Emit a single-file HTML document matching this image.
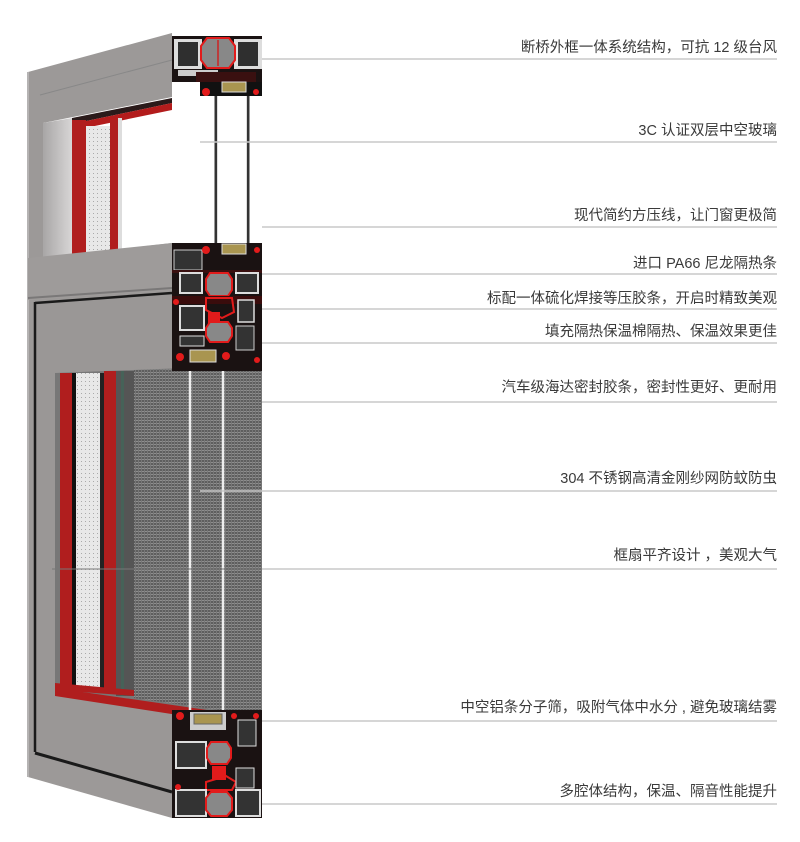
<!DOCTYPE html>
<html><head><meta charset="utf-8"><style>
html,body{margin:0;padding:0;background:#fff;}
svg{display:block}
text{font-family:"Liberation Sans","Noto Sans CJK SC",sans-serif;font-size:14.5px;fill:#3a3a3a}
</style></head><body>
<svg width="800" height="842" viewBox="0 0 800 842" xmlns="http://www.w3.org/2000/svg">
<defs>
<pattern id="mesh" width="3" height="3" patternUnits="userSpaceOnUse">
<rect width="3" height="3" fill="#5e5e5e"/><rect width="3" height="1" fill="#8e8e8e"/><rect width="1" height="3" fill="#777"/>
</pattern>
<pattern id="wm" width="4" height="4" patternUnits="userSpaceOnUse">
<rect width="4" height="4" fill="#e8e8e8"/><rect x="1" y="1" width="1" height="1" fill="#aaa"/>
</pattern>
<linearGradient id="sh" x1="0" x2="1"><stop offset="0" stop-color="#a8a6a6"/><stop offset="1" stop-color="#d8d6d6"/></linearGradient>
</defs>

<polygon points="28,72 172,33 172,818 28,777" fill="#9c9998"/>
<line x1="28" y1="72" x2="28" y2="777" stroke="#b5b3b3" stroke-width="2"/>
<line x1="40" y1="95" x2="172" y2="60" stroke="#888" stroke-width="1"/>

<polygon points="43,123 172,97 172,243 43,258" fill="#fff"/>
<polygon points="43,123 72,118 72,255 43,258" fill="url(#sh)"/>
<polygon points="72,118 172,98 172,103 72,124" fill="#2a1a1a"/>
<polygon points="72,124 172,103 172,110 85,128" fill="#b31c1c"/>
<rect x="72" y="120" width="14" height="135" fill="#b01e1e"/>
<rect x="86" y="126" width="24" height="128" fill="url(#wm)"/>
<rect x="110" y="120" width="8" height="133" fill="#b01e1e"/>
<rect x="118" y="118" width="4" height="134" fill="#ddd"/>

<polygon points="28,258 172,243 172,290 28,300" fill="#9e9b9a"/>
<line x1="28" y1="298" x2="172" y2="288" stroke="#7a7878" stroke-width="2"/>

<polygon points="35,302 172,292 172,790 35,752" fill="#9a9796"/>
<line x1="35" y1="302" x2="35" y2="752" stroke="#1a1a1a" stroke-width="2.5"/>
<line x1="35" y1="303" x2="172" y2="293" stroke="#1a1a1a" stroke-width="2.5"/>
<line x1="35" y1="753" x2="172" y2="792" stroke="#1a1a1a" stroke-width="3"/>

<polygon points="55,373 262,365 262,730 55,688" fill="#777"/>
<rect x="60" y="373" width="12" height="315" fill="#b01e1e"/>
<rect x="72" y="373" width="4" height="315" fill="#111"/>
<rect x="76" y="373" width="24" height="315" fill="url(#wm)"/>
<rect x="100" y="373" width="4" height="318" fill="#222"/>
<rect x="104" y="371" width="12" height="322" fill="#b01e1e"/>
<rect x="116" y="371" width="18" height="325" fill="#555"/>
<rect x="121" y="371" width="3" height="325" fill="#3c6a5a" opacity=".6"/>
<polygon points="134,370 262,368 262,716 134,698" fill="url(#mesh)"/>
<polygon points="55,688 262,718 262,728 55,696" fill="#b01e1e"/>
<polygon points="55,683 134,690 134,696 55,690" fill="#b01e1e"/>
<line x1="190" y1="365" x2="190" y2="730" stroke="#eee" stroke-width="2.5"/>
<line x1="223" y1="365" x2="223" y2="730" stroke="#eee" stroke-width="2.5"/>

<line x1="216" y1="75" x2="216" y2="245" stroke="#333" stroke-width="3"/>
<line x1="248" y1="75" x2="248" y2="245" stroke="#333" stroke-width="3"/>
<line x1="217.5" y1="75" x2="217.5" y2="245" stroke="#ddd" stroke-width="1"/>
<line x1="246.5" y1="75" x2="246.5" y2="245" stroke="#ddd" stroke-width="1"/>

<g>
<rect x="172" y="36" width="90" height="46" fill="#1a1212"/>
<rect x="174" y="39" width="28" height="30" fill="#ddd"/>
<rect x="178" y="42" width="20" height="24" fill="#2f2f2f"/>
<rect x="234" y="39" width="28" height="30" fill="#ddd"/>
<rect x="238" y="42" width="20" height="24" fill="#2f2f2f"/>
<polygon points="207,38 229,38 235,46 235,60 229,68 207,68 201,60 201,46" fill="#888" stroke="#e21b1b" stroke-width="2"/>
<line x1="218" y1="40" x2="218" y2="66" stroke="#c22" stroke-width="1.5"/>
<rect x="178" y="70" width="40" height="6" fill="#ccc"/>
<rect x="196" y="72" width="60" height="10" fill="#3a1010"/>
<rect x="200" y="82" width="62" height="14" fill="#111"/>
<rect x="222" y="82" width="24" height="10" fill="#a99550" stroke="#ddd"/>
<circle cx="206" cy="92" r="4" fill="#e21b1b"/>
<circle cx="256" cy="92" r="3" fill="#e21b1b"/>
</g>

<g>
<rect x="172" y="243" width="90" height="128" fill="#1a1212"/>
<rect x="174" y="250" width="28" height="20" fill="#333" stroke="#ccc"/>
<rect x="222" y="244" width="24" height="10" fill="#a99550" stroke="#ddd"/>
<circle cx="206" cy="250" r="4" fill="#e21b1b"/>
<circle cx="257" cy="250" r="3" fill="#e21b1b"/>
<rect x="172" y="270" width="90" height="3" fill="#3a1010"/>
<rect x="180" y="273" width="22" height="20" fill="#333" stroke="#ddd" stroke-width="2"/>
<rect x="236" y="273" width="22" height="20" fill="#333" stroke="#ddd" stroke-width="2"/>
<polygon points="210,273 228,273 232,279 232,290 228,296 210,296 206,290 206,279" fill="#888" stroke="#e21b1b" stroke-width="2"/>
<rect x="172" y="296" width="90" height="8" fill="#3a0c0c"/>
<polygon points="206,298 232,298 234,312 222,318 206,310" fill="none" stroke="#e21b1b" stroke-width="2"/>
<rect x="180" y="306" width="24" height="24" fill="#333" stroke="#ddd" stroke-width="2"/>
<rect x="238" y="300" width="16" height="22" fill="#333" stroke="#ddd" stroke-width="1.5"/>
<rect x="208" y="312" width="12" height="14" fill="#e21b1b"/>
<polygon points="210,322 228,322 232,328 232,336 228,342 210,342 206,336 206,328" fill="#888" stroke="#e21b1b" stroke-width="2"/>
<rect x="236" y="326" width="18" height="24" fill="#333" stroke="#ccc"/>
<rect x="180" y="336" width="24" height="10" fill="#333" stroke="#ddd"/>
<rect x="190" y="350" width="26" height="12" fill="#a99550" stroke="#ddd"/>
<circle cx="180" cy="357" r="4" fill="#e21b1b"/>
<circle cx="226" cy="356" r="4" fill="#e21b1b"/>
<circle cx="257" cy="360" r="3" fill="#e21b1b"/>
<circle cx="176" cy="302" r="3" fill="#e21b1b"/>
</g>

<g>
<rect x="172" y="710" width="90" height="108" fill="#1a1212"/>
<rect x="190" y="712" width="36" height="18" fill="#ccc"/>
<rect x="194" y="714" width="28" height="10" fill="#a99550" stroke="#666"/>
<circle cx="180" cy="716" r="4" fill="#e21b1b"/>
<circle cx="234" cy="716" r="3" fill="#e21b1b"/>
<circle cx="256" cy="716" r="3" fill="#e21b1b"/>
<rect x="238" y="720" width="18" height="26" fill="#333" stroke="#ddd"/>
<rect x="176" y="742" width="30" height="26" fill="#333" stroke="#ddd" stroke-width="2"/>
<polygon points="211,742 227,742 231,748 231,758 227,764 211,764 207,758 207,748" fill="#888" stroke="#e21b1b" stroke-width="2"/>
<rect x="212" y="766" width="14" height="14" fill="#e21b1b"/>
<polygon points="206,790 232,790 236,782 226,776 206,782" fill="none" stroke="#e21b1b" stroke-width="2"/>
<rect x="236" y="768" width="18" height="20" fill="#333" stroke="#ddd"/>
<rect x="176" y="790" width="30" height="26" fill="#333" stroke="#ddd" stroke-width="2"/>
<rect x="236" y="790" width="24" height="26" fill="#333" stroke="#ddd" stroke-width="2"/>
<polygon points="211,792 227,792 232,798 232,810 227,816 211,816 206,810 206,798" fill="#888" stroke="#e21b1b" stroke-width="2"/>
<circle cx="178" cy="787" r="3" fill="#e21b1b"/>
</g>

<g stroke="#c8c8c8" stroke-width="1.5">
<line x1="262" y1="59" x2="777" y2="59"/>
<line x1="200" y1="142" x2="777" y2="142"/>
<line x1="262" y1="227" x2="777" y2="227"/>
<line x1="262" y1="274" x2="777" y2="274"/>
<line x1="262" y1="309" x2="777" y2="309"/>
<line x1="262" y1="343" x2="777" y2="343"/>
<line x1="262" y1="402" x2="777" y2="402"/>
<line x1="200" y1="491" x2="777" y2="491"/>
<line x1="262" y1="569" x2="777" y2="569"/>
<line x1="262" y1="721" x2="777" y2="721"/>
<line x1="262" y1="804" x2="777" y2="804"/>
</g>
<line x1="52" y1="569" x2="262" y2="569" stroke="#777" stroke-width="1"/>

<g text-anchor="end">
<text x="777" y="52">断桥外框一体系统结构，可抗 12 级台风</text>
<text x="777" y="135">3C 认证双层中空玻璃</text>
<text x="777" y="220">现代简约方压线，让门窗更极简</text>
<text x="777" y="268">进口 PA66 尼龙隔热条</text>
<text x="777" y="303">标配一体硫化焊接等压胶条，开启时精致美观</text>
<text x="777" y="336">填充隔热保温棉隔热、保温效果更佳</text>
<text x="777" y="392">汽车级海达密封胶条，密封性更好、更耐用</text>
<text x="777" y="483">304 不锈钢高清金刚纱网防蚊防虫</text>
<text x="777" y="560">框扇平齐设计 ，美观大气</text>
<text x="777" y="712">中空铝条分子筛，吸附气体中水分 , 避免玻璃结雾</text>
<text x="777" y="796">多腔体结构，保温、隔音性能提升</text>
</g>
</svg>
</body></html>
